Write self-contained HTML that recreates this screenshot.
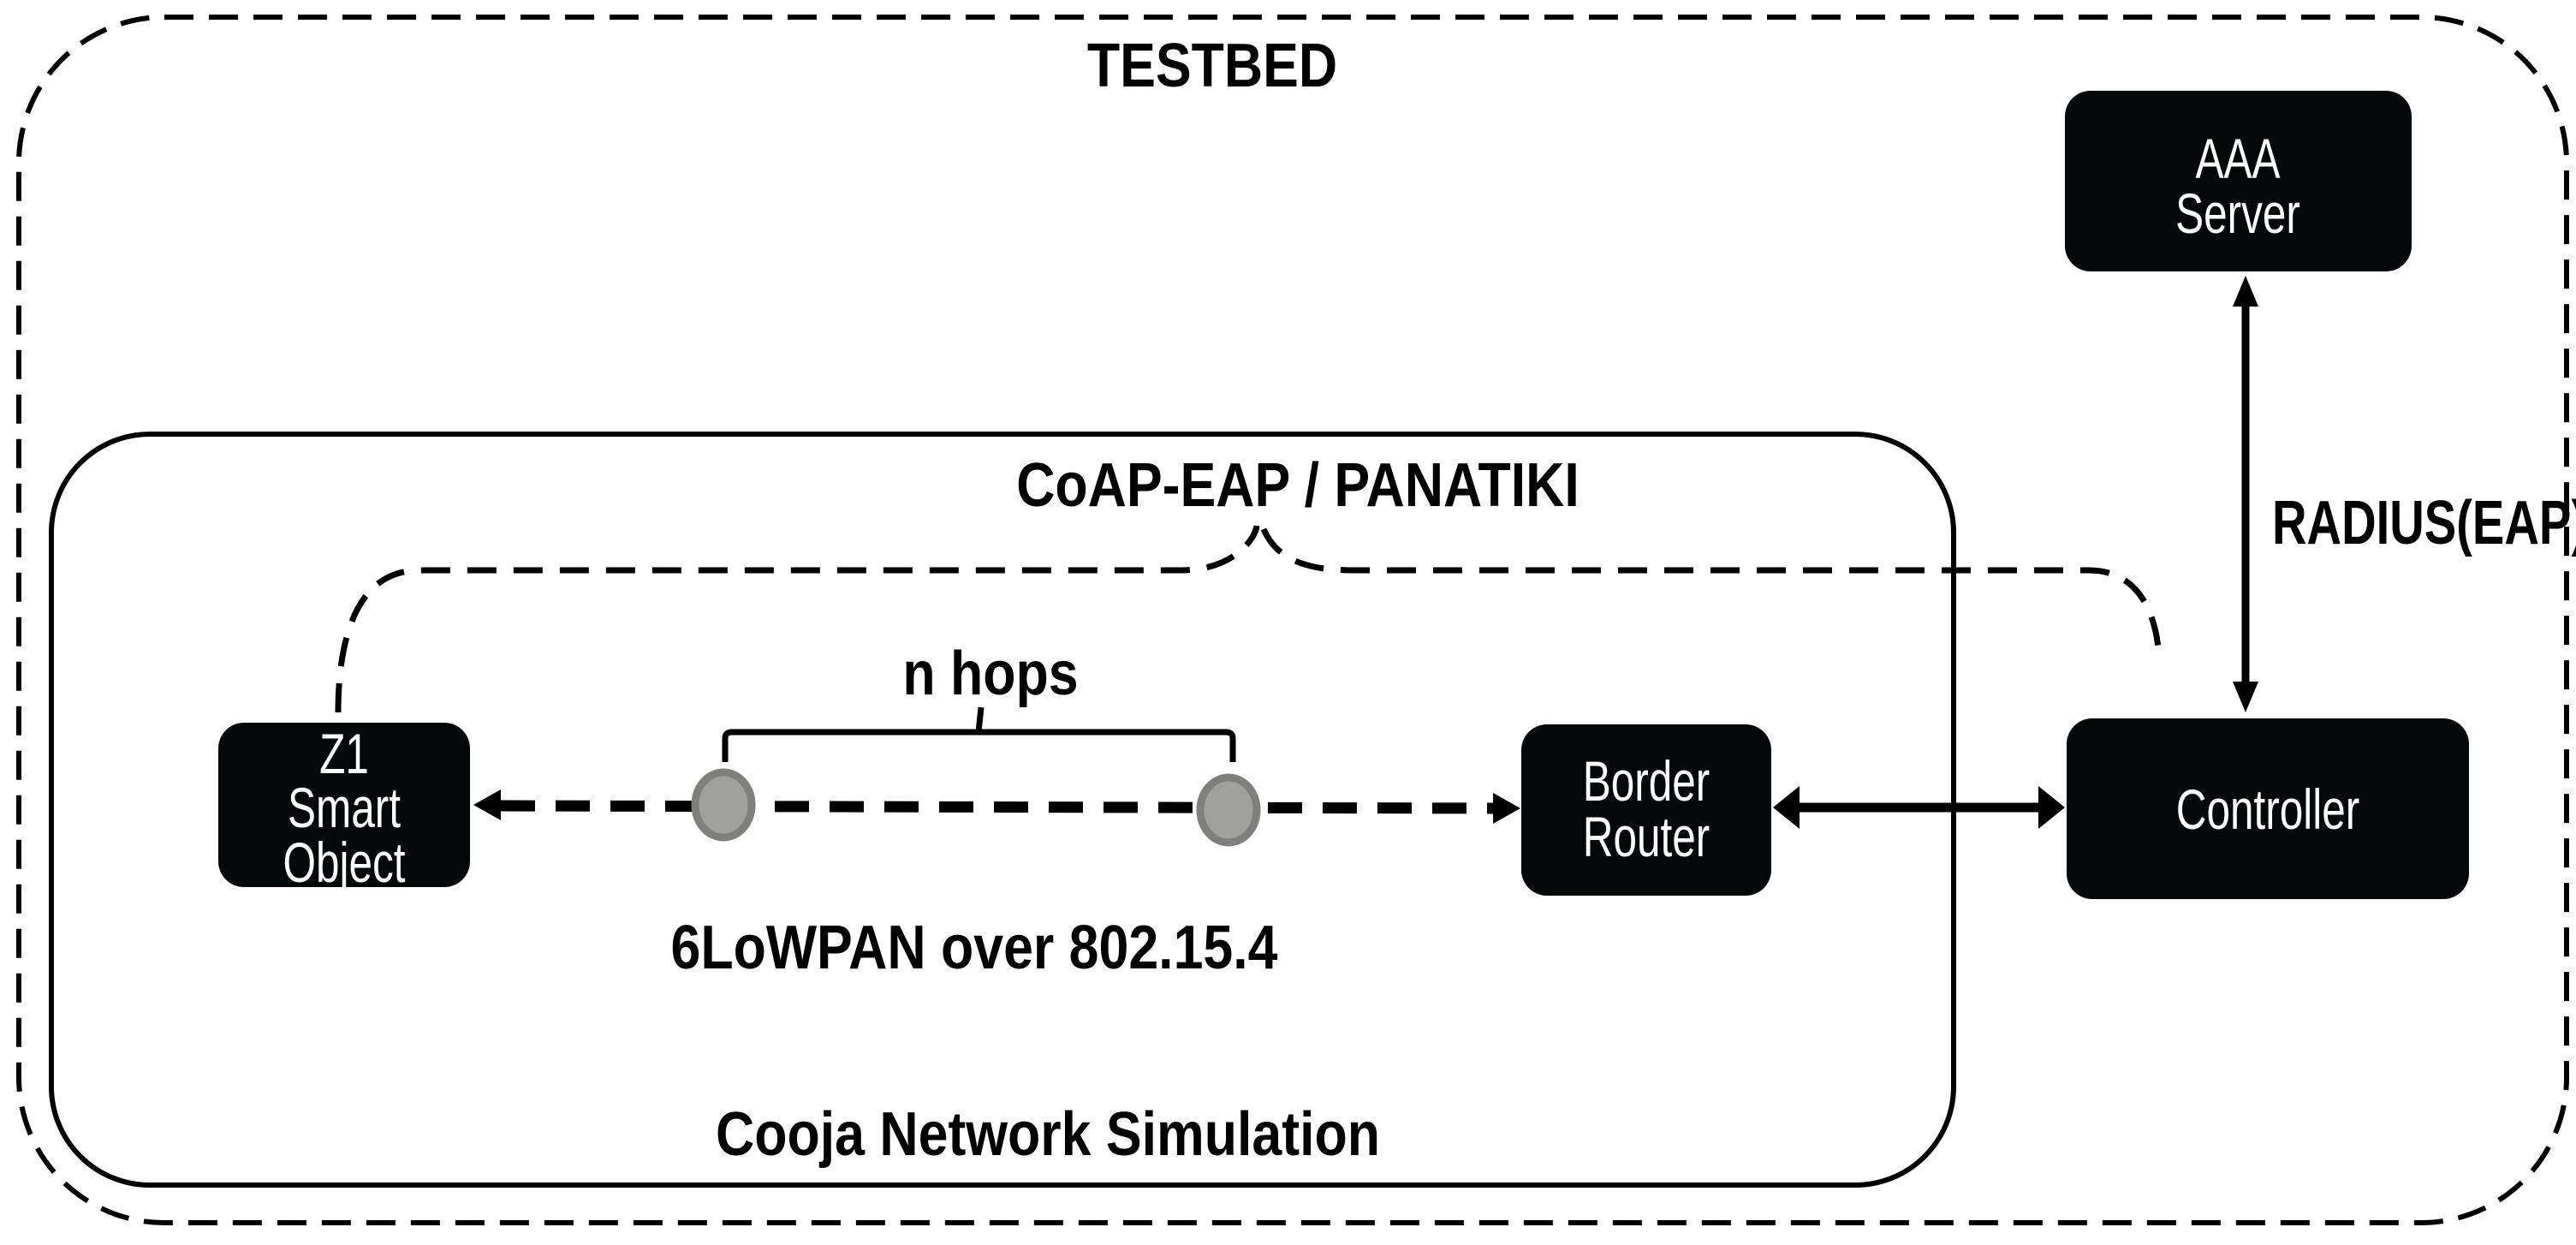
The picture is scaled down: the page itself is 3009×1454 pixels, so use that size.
<!DOCTYPE html>
<html><head><meta charset="utf-8"><style>
html,body{margin:0;padding:0;background:#fff;}
svg{display:block;}
text{font-family:"Liberation Sans",sans-serif;}
</style></head><body>
<svg width="3009" height="1454" viewBox="0 0 3009 1454" xmlns="http://www.w3.org/2000/svg">
<rect x="22" y="20" width="2976" height="1408" rx="170" ry="170" fill="none" stroke="#000" stroke-width="6" stroke-dasharray="34,18"/>
<rect x="60" y="507" width="2222" height="877" rx="115" ry="115" fill="none" stroke="#000" stroke-width="6"/>

<g font-weight="bold" fill="#000" font-size="72" text-anchor="middle">
<text transform="translate(1416,101) scale(0.87,1)">TESTBED</text>
<text transform="translate(1516,591) scale(0.87,1)">CoAP-EAP / PANATIKI</text>
<text transform="translate(1157,811) scale(0.87,1)">n hops</text>
<text transform="translate(1138,1131) scale(0.87,1)">6LoWPAN over 802.15.4</text>
<text transform="translate(1224,1349) scale(0.87,1)">Cooja Network Simulation</text>
<text transform="translate(2654,635) scale(0.78,1)" text-anchor="start">RADIUS(EAP)</text>
</g>

<rect x="2412" y="106" width="405" height="211" rx="30" fill="#050808"/>
<rect x="2414" y="839" width="470" height="211" rx="30" fill="#050808"/>
<rect x="1777" y="846" width="292" height="200" rx="30" fill="#050808"/>
<rect x="255" y="844" width="294" height="192" rx="30" fill="#050808"/>
<g fill="#fff" font-size="66" text-anchor="middle">
<text transform="translate(2614,208) scale(0.75,1)">AAA</text>
<text transform="translate(2614,272) scale(0.75,1)">Server</text>
<text transform="translate(2649,968) scale(0.75,1)">Controller</text>
<text transform="translate(1923,935) scale(0.75,1)">Border</text>
<text transform="translate(1923,1000) scale(0.75,1)">Router</text>
<text transform="translate(402,903) scale(0.75,1)">Z1</text>
<text transform="translate(402,966) scale(0.75,1)">Smart</text>
<text transform="translate(402,1030) scale(0.75,1)">Object</text>
</g>

<line x1="585" y1="941" x2="1745" y2="944" stroke="#000" stroke-width="13" stroke-dasharray="40,24"/>
<polygon points="553,940 585,922 585,958" fill="#000"/>
<polygon points="1776,944 1744,926 1744,962" fill="#000"/>

<ellipse cx="845" cy="940" rx="33" ry="38" fill="#a0a19c" stroke="#7f807c" stroke-width="9"/>
<ellipse cx="1435" cy="946" rx="33" ry="38" fill="#a0a19c" stroke="#7f807c" stroke-width="9"/>

<path d="M847 890 L847 862 Q847 855 855 855 L1432 855 Q1440 855 1440 862 L1440 890" fill="none" stroke="#000" stroke-width="7"/>
<line x1="1143" y1="855" x2="1146" y2="826" stroke="#000" stroke-width="7"/>

<line x1="2095" y1="943" x2="2388" y2="943" stroke="#000" stroke-width="11"/>
<polygon points="2071,943 2102,918 2102,968" fill="#000"/>
<polygon points="2412,943 2381,918 2381,968" fill="#000"/>

<line x1="2623" y1="350" x2="2623" y2="805" stroke="#000" stroke-width="9"/>
<polygon points="2623,322 2608,358 2638,358" fill="#000"/>
<polygon points="2623,832 2608,796 2638,796" fill="#000"/>

<path d="M395 832 C395 760 410 666 490 666 L1380 666 C1440 666 1466 630 1468 614" fill="none" stroke="#000" stroke-width="7" stroke-dasharray="34,20"/>
<path d="M1476 618 C1490 650 1520 666 1580 666 L2440 666 C2500 666 2520 720 2522 770" fill="none" stroke="#000" stroke-width="7" stroke-dasharray="34,20"/>
</svg>
</body></html>
